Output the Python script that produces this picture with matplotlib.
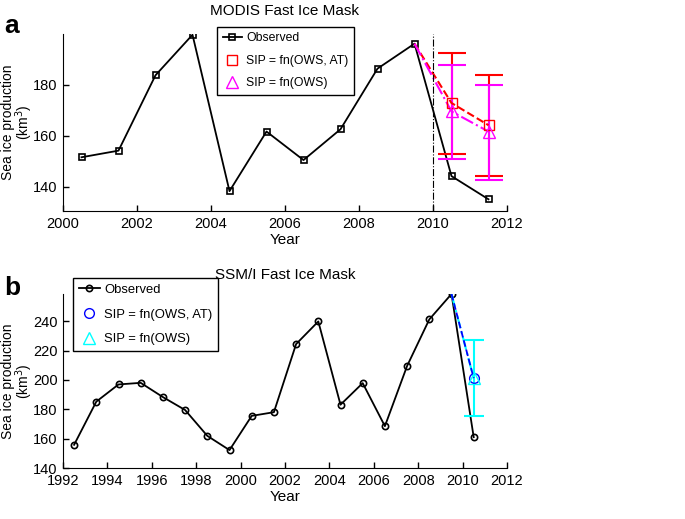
#SIP (sea ice production) observed vs modelled, MODIS and SSM/I fast ice masks
import numpy as np
import matplotlib.pyplot as plt

#
# Data
#

#Panel a: MODIS
modisYears = [2000.5, 2001.5, 2002.5, 2003.5, 2004.5, 2005.5, 2006.5, 2007.5, 2008.5, 2009.5, 2010.5, 2011.5]
modisObs = [151.6, 154.2, 183.8, 199.7, 138.3, 161.7, 150.5, 162.6, 186.4, 196.2, 144.2, 135.1]

modisPredYears = [2009.5, 2010.5, 2011.5]
modisPredOwsAt = [196.2, 172.9, 164.2]
modisPredOws = [196.2, 169.6, 161.7]
modisOwsAtLow = [152.9, 144.3]
modisOwsAtHigh = [192.6, 183.8]
modisOwsLow = [150.8, 142.6]
modisOwsHigh = [187.9, 180.1]

#Panel b: SSM/I
ssmiYears = [1992.5, 1993.5, 1994.5, 1995.5, 1996.5, 1997.5, 1998.5, 1999.5, 2000.5, 2001.5,
             2002.5, 2003.5, 2004.5, 2005.5, 2006.5, 2007.5, 2008.5, 2009.5, 2010.5]
ssmiObs = [155.8, 185.2, 196.9, 198.0, 188.3, 179.5, 161.9, 152.2, 175.5, 178.0,
           224.4, 239.8, 183.1, 197.8, 168.5, 209.5, 241.2, 258.5, 161.0]

ssmiPredYears = [2009.5, 2010.5]
ssmiPredOwsAt = [258.5, 201.2]
ssmiPredOws = [258.5, 201.0]
ssmiOwsLow = [175.5]
ssmiOwsHigh = [226.9]

#
# Style
#

plt.rcParams['font.family'] = ['Liberation Sans', 'DejaVu Sans']
plt.rcParams['font.size'] = 10.5
plt.rcParams['xtick.direction'] = 'in'
plt.rcParams['ytick.direction'] = 'in'

fig = plt.figure(figsize=(6.85, 5.19), dpi=100)
W, H = 685., 519.
axA = fig.add_axes([63/W, 1-211/H, 444/W, 177/H])
axB = fig.add_axes([63/W, 1-468/H, 444/W, 174/H])

def styleAxes(ax) :
  ax.spines['top'].set_visible(False)
  ax.spines['right'].set_visible(False)
  ax.tick_params(length=4, width=1, labelsize=10.5, pad=4)
  ax.set_xlabel('Year', fontsize=11, labelpad=2)
  ax.set_ylabel('Sea ice production\n(km$^3$)', fontsize=10, linespacing=0.9)
  ax.yaxis.set_label_coords(-0.064, 0.5)

legendOpts = dict(loc='upper left', fancybox=False, edgecolor='black', framealpha=1,
  handlelength=1.6, borderpad=0.45, handletextpad=0.35, borderaxespad=0)

#
# Panel a
#

axA.plot(modisYears, modisObs, 'k-s', ms=4, mfc='none', mew=1.2, lw=1.3, label='Observed')
axA.errorbar(modisPredYears[1:], modisPredOwsAt[1:],
  yerr=[np.array(modisPredOwsAt[1:])-np.array(modisOwsAtLow), np.array(modisOwsAtHigh)-np.array(modisPredOwsAt[1:])],
  fmt='none', ecolor='red', elinewidth=1.5, capsize=10, capthick=1.5)
axA.errorbar(modisPredYears[1:], modisPredOws[1:],
  yerr=[np.array(modisPredOws[1:])-np.array(modisOwsLow), np.array(modisOwsHigh)-np.array(modisPredOws[1:])],
  fmt='none', ecolor='magenta', elinewidth=1.5, capsize=10, capthick=1.5)
axA.plot(modisPredYears, modisPredOwsAt, '--', color='red', lw=1.5)
axA.plot(modisPredYears, modisPredOws, '-.', color='magenta', lw=1.5)
axA.plot(modisPredYears[1:], modisPredOwsAt[1:], 's', color='red', ms=7, mfc='none', mew=1.0,
  label='SIP = fn(OWS, AT)')
axA.plot(modisPredYears[1:], modisPredOws[1:], '^', color='magenta', ms=8, mfc='none', mew=1.0,
  label='SIP = fn(OWS)')
axA.axvline(2010, color='black', ls='-.', lw=0.8)

axA.set_xlim(2000, 2012)
axA.set_ylim(130.5, 200)
axA.set_xticks(range(2000, 2013, 2))
axA.set_yticks([140, 160, 180])
styleAxes(axA)
axA.set_title('MODIS Fast Ice Mask', fontsize=11, pad=14)
axA.legend(bbox_to_anchor=(0.347, 1.04), fontsize=8.8, labelspacing=0.85, **legendOpts)
fig.text(4/W, 1-33/H, 'a', fontsize=19, fontweight='bold', va='baseline')

#
# Panel b
#

axB.plot(ssmiYears, ssmiObs, 'k-o', ms=4.5, mfc='none', mew=1.2, lw=1.3, label='Observed')
axB.errorbar(ssmiPredYears[1:], ssmiPredOws[1:],
  yerr=[np.array(ssmiPredOws[1:])-np.array(ssmiOwsLow), np.array(ssmiOwsHigh)-np.array(ssmiPredOws[1:])],
  fmt='none', ecolor='cyan', elinewidth=1.5, capsize=7, capthick=1.5)
axB.plot(ssmiPredYears, ssmiPredOws, '-.', color='cyan', lw=1.5)
axB.plot(ssmiPredYears, ssmiPredOwsAt, '--', color='blue', lw=1.3)
axB.plot(ssmiPredYears[1:], ssmiPredOwsAt[1:], 'o', color='blue', ms=7, mfc='none', mew=1.0,
  label='SIP = fn(OWS, AT)')
axB.plot(ssmiPredYears[1:], ssmiPredOws[1:], '^', color='cyan', ms=8, mfc='none', mew=1.0,
  label='SIP = fn(OWS)')

axB.set_xlim(1992, 2012)
axB.set_ylim(140, 258.5)
axB.set_xticks(range(1992, 2013, 2))
axB.set_yticks(range(140, 241, 20))
styleAxes(axB)
axB.set_title('SSM/I Fast Ice Mask', fontsize=11, pad=11)
axB.legend(bbox_to_anchor=(0.0225, 1.092), fontsize=9.4, labelspacing=0.95, **legendOpts)
fig.text(4/W, 1-295/H, 'b', fontsize=19, fontweight='bold', va='baseline')

fig.savefig('out.png', dpi=100)
